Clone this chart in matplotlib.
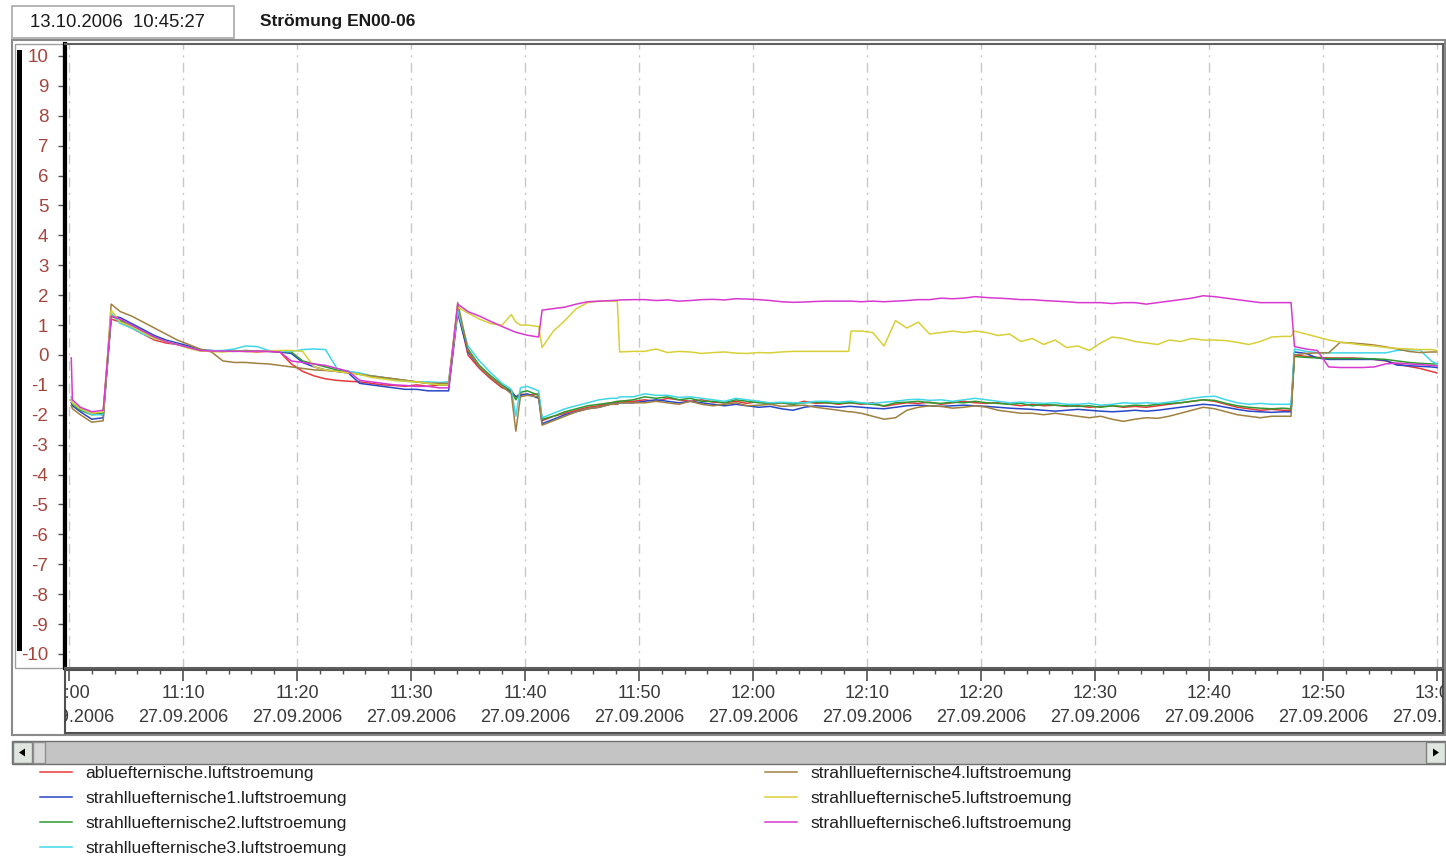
import matplotlib
matplotlib.use("Agg")
import matplotlib.pyplot as plt
import matplotlib.dates as mdates
from matplotlib.patches import Rectangle, Polygon
from matplotlib.transforms import blended_transform_factory
from datetime import datetime, timedelta

plt.rcParams['font.family'] = ['Liberation Sans', 'DejaVu Sans']
plt.rcParams['axes.unicode_minus'] = False

# sample times in minutes after 11:00, 27.09.2006
minutes = [0.2, 0.3, 1, 2, 3, 3.7,
           4.5, 5.5, 6.5, 7.5, 8.5, 9.5, 10.5, 11.5, 12.5, 13.5, 14.5, 15.5, 16.5, 17.5,
           18.5, 19.5, 20.5, 21.5, 22.5, 23.5, 24.5, 25.5, 26.5, 27.5, 28.5, 29.5, 30.5, 31.5, 32.5,
           33.3, 34.1, 35, 36, 37, 38, 38.8, 39.2, 39.6, 40.2, 41.2, 41.5, 42.5, 43.5, 44.5, 45.5,
           46.5, 47.5, 48.1, 48.3, 49.5,
           50.5, 51.5, 52.5, 53.5, 54.5, 55.5, 56.5, 57.5, 58.5, 59.5, 60.5, 61.5, 62.5, 63.5,
           64.5, 65.5, 66.5, 67.5,
           68.4, 68.6,
           69.5, 70.5, 71.5, 72.5, 73.5, 74.5, 75.5, 76.5, 77.5, 78.5, 79.5, 80.5, 81.5, 82.5,
           83.5, 84.5, 85.5, 86.5, 87.5, 88.5, 89.5, 90.5, 91.5, 92.5, 93.5, 94.5, 95.5, 96.5,
           97.5, 98.5, 99.5, 100.5, 101.5, 102.5, 103.5, 104.5, 105.5, 106.5,
           107.2, 107.5,
           108.5, 109.5, 110.5, 111.5, 112.5, 113.5, 114.5, 115.5, 116.5, 117.5, 118.5, 119.5, 120]

abluft = [-1.5, -1.65, -1.8, -1.95, -2.0, 1.2,
          1.1, 0.9, 0.7, 0.5, 0.4, 0.35, 0.25, 0.15, 0.12, 0.12, 0.13, 0.12, 0.1, 0.12,
          0.1, -0.3, -0.55, -0.7, -0.8, -0.85, -0.88, -0.9, -0.95, -1.0, -1.02, -1.05, -1.0, -1.05, -1.0,
          -1.0, 1.55, 0.0, -0.45, -0.8, -1.1, -1.2, -1.4, -1.3, -1.35, -1.3, -2.2, -2.05, -1.95, -1.85, -1.75,
          -1.7, -1.6, -1.6, -1.55, -1.55,
          -1.5, -1.55, -1.45, -1.5, -1.55, -1.5, -1.58, -1.6, -1.55, -1.62, -1.55, -1.65, -1.6, -1.65,
          -1.55, -1.62, -1.6, -1.65,
          -1.6, -1.6,
          -1.65, -1.6, -1.72, -1.65, -1.6, -1.62, -1.58, -1.65, -1.6, -1.55, -1.6, -1.62, -1.6, -1.65,
          -1.7, -1.65, -1.7, -1.68, -1.72, -1.7, -1.75, -1.72, -1.7, -1.75, -1.72, -1.75, -1.7, -1.65,
          -1.6, -1.55, -1.5, -1.55, -1.65, -1.75, -1.8, -1.85, -1.82, -1.85,
          -1.85, 0.0,
          -0.05, -0.08, -0.1, -0.1, -0.1, -0.12, -0.15, -0.2, -0.3, -0.38, -0.45, -0.55, -0.6]

strahl1 = [-1.6, -1.7, -1.9, -2.15, -2.1, 1.3,
           1.25, 1.05, 0.85, 0.65, 0.5, 0.4, 0.3, 0.17, 0.15, 0.12, 0.15, 0.12, 0.13, 0.12,
           0.1, 0.05, -0.25, -0.4, -0.5, -0.55, -0.6, -0.95, -1.0, -1.05, -1.1, -1.15, -1.15, -1.2, -1.2,
           -1.2, 1.4, 0.1, -0.4, -0.75, -1.05, -1.25, -1.4, -1.35, -1.3, -1.45, -2.3, -2.15, -2.0, -1.9, -1.8,
           -1.75, -1.65, -1.65, -1.6, -1.6,
           -1.55, -1.5, -1.55, -1.6, -1.55, -1.6, -1.65, -1.7, -1.65, -1.7, -1.75, -1.72, -1.8, -1.85,
           -1.75, -1.7, -1.72, -1.75,
           -1.72, -1.72,
           -1.75, -1.78, -1.8, -1.75, -1.7, -1.68, -1.7, -1.72, -1.7, -1.68, -1.7, -1.72, -1.75, -1.78,
           -1.8, -1.82, -1.85, -1.88, -1.85, -1.82, -1.85, -1.88, -1.9, -1.88, -1.85, -1.88, -1.85, -1.8,
           -1.75, -1.7, -1.65, -1.68, -1.75, -1.82, -1.88, -1.9, -1.92, -1.9,
           -1.9, 0.1,
           0.05, -0.1, -0.15, -0.15, -0.15, -0.15, -0.15, -0.18, -0.34, -0.36, -0.38, -0.4, -0.42]

strahl2 = [-1.5, -1.65, -1.85, -2.0, -1.95, 1.3,
           1.15, 0.95, 0.8, 0.6, 0.45, 0.35, 0.25, 0.15, 0.14, 0.13, 0.12, 0.15, 0.12, 0.13,
           0.12, 0.1, -0.2, -0.3, -0.4, -0.5, -0.55, -0.65, -0.7, -0.75, -0.8, -0.85, -0.9, -0.95, -1.0,
           -1.0, 1.5, 0.2, -0.35, -0.7, -1.0, -1.2, -1.5, -1.25, -1.2, -1.35, -2.15, -2.05, -1.9, -1.8, -1.7,
           -1.65, -1.6, -1.55, -1.55, -1.5,
           -1.4, -1.45, -1.4, -1.5, -1.45, -1.55, -1.55, -1.6, -1.5, -1.55, -1.6, -1.62, -1.6, -1.65,
           -1.6, -1.58, -1.6, -1.62,
           -1.6, -1.6,
           -1.62, -1.65, -1.7, -1.6, -1.58, -1.55, -1.6, -1.62, -1.58, -1.6, -1.55, -1.6, -1.62, -1.65,
           -1.62, -1.7, -1.65, -1.68, -1.7, -1.72, -1.7, -1.75, -1.7, -1.72, -1.68, -1.7, -1.65, -1.62,
           -1.6, -1.55, -1.5, -1.52, -1.62, -1.7, -1.75, -1.78, -1.8, -1.78,
           -1.8, -0.05,
           -0.08, -0.1, -0.12, -0.12, -0.12, -0.12, -0.13, -0.15, -0.2, -0.25, -0.28, -0.3, -0.3]

strahl3 = [-1.4, -1.6, -1.8, -2.0, -2.0, 1.4,
           1.05, 0.9, 0.7, 0.55, 0.45, 0.35, 0.25, 0.15, 0.14, 0.15, 0.2, 0.3, 0.28, 0.15,
           0.12, 0.12, 0.18, 0.2, 0.18, -0.45, -0.55, -0.6, -0.7, -0.75, -0.85, -0.88, -0.9, -0.9, -0.92,
           -0.9, 1.5, 0.3, -0.2, -0.6, -0.95, -1.15, -2.05, -1.1, -1.05, -1.2, -2.1, -1.95, -1.8, -1.7, -1.6,
           -1.5, -1.45, -1.45, -1.4, -1.4,
           -1.3, -1.35, -1.35, -1.42, -1.4, -1.45, -1.5, -1.55, -1.45, -1.5, -1.55, -1.6, -1.58, -1.6,
           -1.6, -1.55, -1.55, -1.58,
           -1.55, -1.55,
           -1.6, -1.62, -1.58, -1.55, -1.5, -1.48, -1.52, -1.5, -1.55, -1.5, -1.45, -1.5, -1.55, -1.6,
           -1.58, -1.6, -1.62, -1.6, -1.65, -1.65, -1.62, -1.68, -1.65, -1.6, -1.62, -1.6, -1.62, -1.58,
           -1.52, -1.45, -1.4, -1.38, -1.5, -1.6, -1.65, -1.62, -1.65, -1.65,
           -1.65, 0.2,
           0.12, 0.08, 0.07, 0.07, 0.07, 0.07, 0.07, 0.07, 0.15, 0.17, 0.17, -0.2, -0.3]

strahl4 = [-1.7, -1.8, -2.0, -2.25, -2.2, 1.7,
           1.45, 1.3, 1.1, 0.9, 0.7, 0.5, 0.35, 0.2, 0.1, -0.2, -0.25, -0.25, -0.28, -0.3,
           -0.35, -0.4, -0.45, -0.5, -0.52, -0.55, -0.6, -0.65, -0.7, -0.75, -0.8, -0.85, -0.9, -0.95, -0.95,
           -0.95, 1.75, 0.15, -0.4, -0.75, -1.05, -1.3, -2.55, -1.4, -1.35, -1.4, -2.35, -2.2, -2.05, -1.9, -1.8,
           -1.75, -1.65, -1.65, -1.6, -1.6,
           -1.6, -1.55, -1.6, -1.65, -1.55, -1.65, -1.7, -1.65, -1.6, -1.7, -1.68, -1.65, -1.72, -1.7,
           -1.68, -1.75, -1.8, -1.85,
           -1.9, -1.9,
           -1.95, -2.05, -2.15, -2.1, -1.85, -1.75, -1.7, -1.72, -1.78, -1.75, -1.7, -1.75, -1.85, -1.9,
           -1.95, -1.95, -2.0, -1.95, -2.0, -2.05, -2.1, -2.05, -2.15, -2.22, -2.15, -2.1, -2.12, -2.05,
           -1.95, -1.85, -1.75, -1.8, -1.9, -2.0, -2.05, -2.1, -2.05, -2.05,
           -2.05, 0.0,
           0.05, 0.07, 0.07, 0.42, 0.4, 0.37, 0.33, 0.27, 0.2, 0.12, 0.08, 0.1, 0.1]

strahl5 = [-1.5, -1.6, -1.8, -1.95, -1.9, 1.5,
           1.1, 0.95, 0.75, 0.55, 0.45, 0.35, 0.22, 0.13, 0.12, 0.1, 0.13, 0.12, 0.12, 0.13,
           0.15, 0.15, 0.12, -0.4, -0.5, -0.55, -0.6, -0.65, -0.75, -0.8, -0.85, -0.88, -0.9, -0.95, -1.0,
           -1.0, 1.6, 1.4, 1.2, 1.05, 1.0, 1.35, 1.1, 1.0, 1.0, 0.95, 0.25, 0.8, 1.15, 1.55, 1.75,
           1.8, 1.8, 1.8, 0.1, 0.12,
           0.12, 0.2, 0.08, 0.12, 0.1, 0.05, 0.08, 0.1, 0.06, 0.05, 0.08, 0.07, 0.1, 0.12,
           0.12, 0.12, 0.12, 0.12,
           0.12, 0.8,
           0.8, 0.75, 0.3, 1.15, 0.9, 1.1, 0.7, 0.75, 0.8, 0.75, 0.8, 0.75, 0.65, 0.7,
           0.45, 0.55, 0.35, 0.5, 0.25, 0.3, 0.15, 0.4, 0.6, 0.55, 0.45, 0.4, 0.35, 0.5,
           0.45, 0.55, 0.5, 0.5, 0.48, 0.42, 0.35, 0.45, 0.6, 0.62,
           0.62, 0.8,
           0.7, 0.6, 0.5, 0.43, 0.38, 0.33, 0.3, 0.25, 0.22, 0.2, 0.18, 0.18, 0.15]

strahl6 = [-0.1, -1.5, -1.75, -1.9, -1.85, 1.3,
           1.2, 1.0, 0.8, 0.6, 0.45, 0.35, 0.25, 0.15, 0.13, 0.13, 0.12, 0.12, 0.13, 0.12,
           0.1, -0.2, -0.25, -0.3, -0.35, -0.45, -0.55, -0.85, -0.9, -0.95, -1.0, -1.02, -1.05, -1.05, -1.1,
           -1.1, 1.7, 1.45, 1.3, 1.12, 0.95, 0.82, 0.76, 0.72, 0.66, 0.6, 1.5, 1.55, 1.6, 1.7, 1.78,
           1.8, 1.82, 1.83, 1.84, 1.85,
           1.85, 1.82, 1.84, 1.8, 1.82, 1.85, 1.86, 1.84, 1.88, 1.87, 1.85, 1.82, 1.78, 1.76,
           1.77, 1.79, 1.8, 1.8,
           1.8, 1.8,
           1.78, 1.8, 1.78, 1.8, 1.82, 1.85, 1.85, 1.9, 1.88, 1.9, 1.95, 1.92, 1.9, 1.88,
           1.85, 1.85, 1.82, 1.8, 1.78, 1.75, 1.75, 1.75, 1.72, 1.75, 1.75, 1.7, 1.75, 1.8,
           1.85, 1.9, 1.98, 1.95, 1.9, 1.85, 1.8, 1.75, 1.75, 1.75,
           1.75, 0.28,
           0.2, 0.15, -0.4, -0.42, -0.42, -0.42, -0.4, -0.3, -0.27, -0.3, -0.32, -0.35, -0.37]

labels = ['abluefternische.luftstroemung',
          'strahlluefternische1.luftstroemung',
          'strahlluefternische2.luftstroemung',
          'strahlluefternische3.luftstroemung',
          'strahlluefternische4.luftstroemung',
          'strahlluefternische5.luftstroemung',
          'strahlluefternische6.luftstroemung']
colors = ['#e8383a', '#2846c8', '#2e9a2e', '#40d8e8', '#a08040', '#d8d038', '#d838d0']
series = [abluft, strahl1, strahl2, strahl3, strahl4, strahl5, strahl6]

start = datetime(2006, 9, 27, 11, 0)
times = [start + timedelta(minutes=m) for m in minutes]

W, H = 1446, 856
fig = plt.figure(figsize=(W / 100, H / 100), dpi=100)
fig.patch.set_facecolor('white')


def frac(x0, y0, x1, y1):
    # pixel box (top-left origin) -> figure fraction rect
    return [x0 / W, 1 - y1 / H, (x1 - x0) / W, (y1 - y0) / H]


# background layer for the window chrome
bg = fig.add_axes([0, 0, 1, 1], zorder=0)
bg.set_xlim(0, W)
bg.set_ylim(H, 0)
bg.axis('off')

bg.add_patch(Rectangle((12, 6), 222, 32, fill=False, ec='#a8a8a8', lw=1.2))
bg.text(30, 22, '13.10.2006  10:45:27', fontsize=13.3, va='center', color='#1a1a1a')
bg.text(260, 21, 'Strömung EN00-06', fontsize=12.5, fontweight='bold', va='center', color='#1a1a1a')

bg.add_patch(Rectangle((12, 40), 1433, 695, fill=False, ec='#8a8a8a', lw=1.5))
bg.add_patch(Rectangle((15, 44), 48, 624, fill=False, ec='#a0a0a0', lw=1))
bg.add_patch(Rectangle((17, 50), 5, 601, fc='black', ec='none'))

# scrollbar
bg.add_patch(Rectangle((12, 741), 1434, 23, fc='#c4c4c4', ec='#707070', lw=1))
bg.add_patch(Rectangle((13, 742), 19, 21, fc='#dfe6df', ec='#808080', lw=1))
bg.add_patch(Rectangle((33, 742), 12, 21, fc='#d8d8d8', ec='#909090', lw=1))
bg.add_patch(Rectangle((1426, 742), 19, 21, fc='#dfe6df', ec='#808080', lw=1))
bg.add_patch(Polygon([[19, 752.5], [25, 748.5], [25, 756.5]], closed=True, fc='black', ec='none'))
bg.add_patch(Polygon([[1439, 752.5], [1433, 748.5], [1433, 756.5]], closed=True, fc='black', ec='none'))

# main plot
ax = fig.add_axes(frac(65, 44, 1443, 668), zorder=2)
handles = []
for vals, col, lab in zip(series, colors, labels):
    h, = ax.plot(times, vals, color=col, lw=1.1, label=lab)
    handles.append(h)

x_lo = start + timedelta(minutes=-0.35)
x_hi = start + timedelta(minutes=120.53)
ax.set_xlim(x_lo, x_hi)
ax.set_ylim(-10.47, 10.4)
ax.set_yticks(range(-10, 11))
ax.tick_params(axis='y', direction='out', length=5, width=1, color='#505050',
               labelsize=13.5, labelcolor='#a5463e', pad=7)
ax.xaxis.set_major_locator(mdates.MinuteLocator(byminute=range(0, 60, 10)))
ax.tick_params(axis='x', bottom=False, labelbottom=False)
ax.grid(axis='x', color='#c8c8c8', lw=1, linestyle=(0, (7, 4, 1.5, 4)))
for side in ['top', 'right', 'bottom']:
    ax.spines[side].set_color('#606060')
    ax.spines[side].set_linewidth(1.5)
ax.spines['left'].set_color('black')
ax.spines['left'].set_linewidth(3)

# time axis panel below the plot
axx = fig.add_axes(frac(65, 670, 1443, 733), zorder=2)
axx.set_xlim(x_lo, x_hi)
axx.set_ylim(0, 1)
axx.set_yticks([])
axx.xaxis.set_major_locator(mdates.MinuteLocator(byminute=range(0, 60, 10)))
axx.xaxis.set_minor_locator(mdates.MinuteLocator(byminute=range(0, 60, 2)))
axx.tick_params(axis='x', which='both', bottom=False, top=True, labelbottom=False,
                direction='in', color='#505050')
axx.tick_params(axis='x', which='major', length=8, width=1.2)
axx.tick_params(axis='x', which='minor', length=3, width=1)
for s in axx.spines.values():
    s.set_color('#505050')
    s.set_linewidth(1.5)

tr = blended_transform_factory(axx.transData, axx.transAxes)
for tk in axx.xaxis.get_major_locator().tick_values(x_lo, start + timedelta(minutes=121)):
    d = mdates.num2date(tk)
    axx.text(tk, 0.63, d.strftime('%H:%M'), transform=tr, ha='center', va='center',
             fontsize=13, color='#3a3a3a', clip_on=True)
    axx.text(tk, 0.24, d.strftime('%d.%m.%Y'), transform=tr, ha='center', va='center',
             fontsize=13, color='#3a3a3a', clip_on=True)

fig.legend(handles=handles, labels=labels, loc='upper left',
           bbox_to_anchor=(40 / W, 1 - 766 / H), ncol=2, frameon=False,
           fontsize=12.5, handlelength=1.85, handletextpad=0.75,
           labelspacing=0.56, columnspacing=24.1, borderpad=0, borderaxespad=0,
           labelcolor='#202020')

fig.savefig('out.png', dpi=100, facecolor='white')
